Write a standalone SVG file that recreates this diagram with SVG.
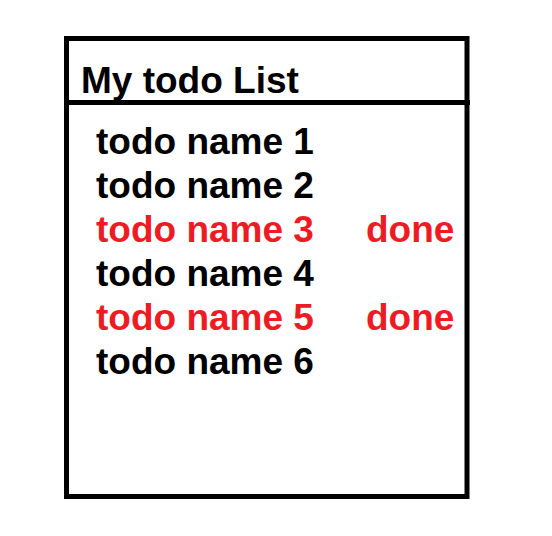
<svg xmlns="http://www.w3.org/2000/svg" width="552" height="536" viewBox="0 0 552 536">
<style>
.t{font-family:"Liberation Sans",Arial,sans-serif;font-weight:bold;font-size:37px;fill:#000}
.r{fill:#ED1C24}
.ln{stroke:#000;stroke-width:5;fill:none}
</style>
<rect width="552" height="536" fill="#fff"/>
<g id="list">
<rect class="ln" x="66.5" y="38.5" width="400.5" height="458"/>
<line class="ln" x1="64" y1="102.5" x2="470" y2="102.5"/>
</g>
<g id="title"><text class="t" x="81" y="93">My todo List</text></g>
<g id="item1"><text class="t" x="96" y="153.5">todo name 1</text></g>
<g id="item2"><text class="t" x="96" y="197.5">todo name 2</text></g>
<g id="item3"><text class="t r" x="96" y="241.5">todo name 3</text><text class="t r" x="366" y="241.5">done</text></g>
<g id="item4"><text class="t" x="96" y="285.5">todo name 4</text></g>
<g id="item5"><text class="t r" x="96" y="329.5">todo name 5</text><text class="t r" x="366" y="329.5">done</text></g>
<g id="item6"><text class="t" x="96" y="373.5">todo name 6</text></g>
</svg>
